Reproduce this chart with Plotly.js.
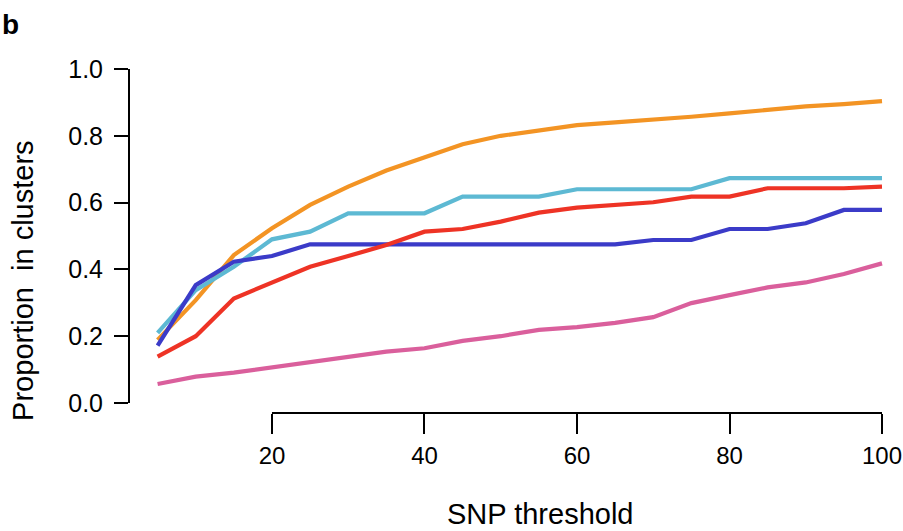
<!DOCTYPE html>
<html>
<head>
<meta charset="utf-8">
<script src="https://cdn.plot.ly/plotly-3.0.1.min.js"></script>
<style>html,body{margin:0;padding:0;background:#fff;}#chart{width:903px;height:531px;}</style>
</head>
<body>
<div id="chart"></div>
<script>
// SNP thresholds (x values)
const thresholds = [5,10,15,20,25,30,35,40,45,50,55,60,65,70,75,80,85,90,95,100];
// Proportion in clusters, one array per series
const orangeSeries = [0.189,0.308,0.443,0.523,0.593,0.648,0.696,0.737,0.775,0.800,0.817,0.832,0.840,0.847,0.857,0.867,0.879,0.888,0.895,0.904];
const cyanSeries   = [0.210,0.338,0.408,0.490,0.513,0.568,0.568,0.568,0.618,0.618,0.618,0.640,0.640,0.640,0.640,0.673,0.673,0.673,0.673,0.673];
const redSeries    = [0.139,0.200,0.313,0.360,0.408,0.440,0.473,0.513,0.521,0.543,0.570,0.585,0.593,0.601,0.618,0.618,0.643,0.643,0.643,0.648];
const blueSeries   = [0.172,0.353,0.423,0.440,0.475,0.475,0.475,0.475,0.475,0.475,0.475,0.475,0.475,0.488,0.488,0.521,0.521,0.538,0.578,0.578];
const pinkSeries   = [0.057,0.079,0.091,0.107,0.124,0.139,0.154,0.164,0.186,0.200,0.219,0.227,0.240,0.257,0.299,0.323,0.346,0.361,0.386,0.418];
// Tick labels
const xTickVals = [20,40,60,80,100];
const yTickVals = [0,0.2,0.4,0.6,0.8,1.0];
const yTickText = ["0.0","0.2","0.4","0.6","0.8","1.0"];

const series = [
  {name:"orange", y: orangeSeries, color:"#F39424"},
  {name:"cyan",   y: cyanSeries,   color:"#5DB9D3"},
  {name:"blue",   y: blueSeries,   color:"#3B3BC8"},
  {name:"red",    y: redSeries,    color:"#EE3325"},
  {name:"pink",   y: pinkSeries,   color:"#DA5F9C"}
];

const traces = series.map(s => ({
  type: "scatter", mode: "lines", name: s.name,
  x: thresholds, y: s.y,
  line: {color: s.color, width: 4.2},
  cliponaxis: false, hoverinfo: "skip"
}));

const font = "Liberation Sans, Arial, sans-serif";

const layout = {
  width: 903, height: 531,
  paper_bgcolor: "#fff", plot_bgcolor: "#fff",
  margin: {l: 129, r: 12, t: 69, b: 118},
  showlegend: false,
  xaxis: {
    range: [1.25, 101.18], showgrid: false, zeroline: false, showline: false,
    tickmode: "array", tickvals: xTickVals, ticks: "outside", ticklen: 20, tickwidth: 2, tickcolor: "#000",
    tickfont: {family: font, size: 24, color: "#000"}, ticklabelstandoff: 1, ticklabeloverflow: "allow"
  },
  yaxis: {
    range: [-0.02994, 1], showgrid: false, zeroline: false, showline: false,
    tickmode: "array", tickvals: yTickVals, ticktext: yTickText, ticks: "outside", ticklen: 14, tickwidth: 2, tickcolor: "#000",
    tickfont: {family: font, size: 25, color: "#000"}, ticklabelstandoff: 6, ticklabeloverflow: "allow"
  },
  shapes: [
    {type: "line", xref: "x", yref: "paper", x0: xTickVals[0], x1: xTickVals[xTickVals.length-1], y0: 0, y1: 0, line: {color: "#000", width: 2}},
    {type: "line", xref: "paper", yref: "y", x0: 0, x1: 0, y0: yTickVals[0], y1: yTickVals[yTickVals.length-1], line: {color: "#000", width: 2}}
  ],
  annotations: [
    {text: "SNP threshold", xref: "paper", yref: "paper", x: 0.54, y: -0.295, xanchor: "center", yanchor: "middle", showarrow: false, font: {family: font, size: 29, color: "#000"}},
    {text: "Proportion  in clusters", xref: "paper", yref: "paper", x: -0.14, y: 0.385, xanchor: "center", yanchor: "middle", textangle: -90, showarrow: false, font: {family: font, size: 29, color: "#000"}},
    {text: "<b>b</b>", xref: "paper", yref: "paper", x: -0.156, y: 1.13, xanchor: "center", yanchor: "middle", showarrow: false, font: {family: font, size: 28, color: "#000"}}
  ]
};

Plotly.newPlot("chart", traces, layout, {staticPlot: true, displayModeBar: false});
</script>
</body>
</html>
